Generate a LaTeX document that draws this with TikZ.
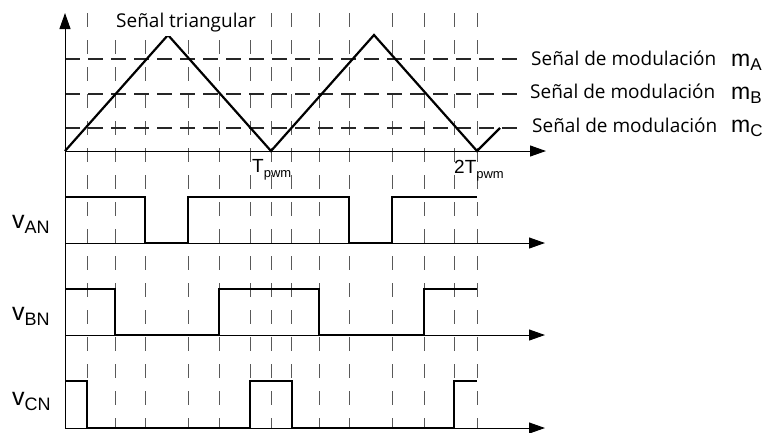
\documentclass[tikz,border=0pt]{standalone}
\usepackage{fontspec}
\setmainfont{Open Sans}
\newfontfamily\arial{Liberation Sans}
\usetikzlibrary{arrows.meta}
\begin{document}
\begin{tikzpicture}[x={(1pt,0)},y={(0,-1pt)},
  axis/.style={line width=1pt,black,-{Triangle[length=16pt,width=11pt]}},
  vgrid/.style={line width=1pt,black!65,dash pattern=on 14pt off 13pt},
  hgrid/.style={line width=1.4pt,black!85,dash pattern=on 15pt off 8pt},
  wave/.style={line width=2.4pt,black,line join=miter},
  tri/.style={line width=2.2pt,black,line join=miter},
  lbl/.style={inner sep=0pt,anchor=base west}]
\useasboundingbox (0,0) rectangle (770,432);
% vertical grid
\foreach \x in {87,115,145,188,219,250,271,291,319,349,392,424,454,477}
  \draw[vgrid] (\x,13) -- (\x,428);
% horizontal modulation levels
\foreach \y in {59,94,128}
  \draw[hgrid] (65,\y) -- (522,\y);
% axes
\draw[axis] (65,428) -- (65,13);
\draw[axis] (65,151) -- (546,151);
\draw[axis] (65,243) -- (545,243);
\draw[axis] (65,335) -- (545,335);
\draw[axis] (65,428) -- (545,428);
% triangle carrier
\draw[tri] (65,151) -- (168,35) -- (271,151) -- (374,35) -- (477,151) -- (500,128);
% switching waveforms
\draw[wave] (65,197) -- (145,197) -- (145,243) -- (188,243) -- (188,197) -- (349,197) -- (349,243) -- (392,243) -- (392,197) -- (477,197);
\draw[wave] (65,289) -- (115,289) -- (115,335) -- (219,335) -- (219,289) -- (319,289) -- (319,335) -- (424,335) -- (424,289) -- (477,289);
\draw[wave] (65,381) -- (87,381) -- (87,428) -- (250,428) -- (250,381) -- (292,381) -- (292,428) -- (454,428) -- (454,381) -- (477,381);
% labels
\node[anchor=base west,fill=white,inner xsep=3pt,inner ysep=4pt] (tri) at (113,27) {\fontsize{19}{22}\selectfont Señal triangular};
\node[lbl] (ma) at (531,65) {\fontsize{19}{22}\selectfont Señal de modulación};
\node[lbl] (mb) at (530,98) {\fontsize{19}{22}\selectfont Señal de modulación};
\node[lbl] (mc) at (532,132) {\fontsize{19}{22}\selectfont Señal de modulación};
\node[lbl] (mA) at (731,66) {\arial\fontsize{23}{25}\selectfont m\raisebox{-4pt}{\fontsize{17}{19}\selectfont A}};
\node[lbl] (mB) at (731,99) {\arial\fontsize{23}{25}\selectfont m\raisebox{-4pt}{\fontsize{17}{19}\selectfont B}};
\node[lbl] (mC) at (731,132) {\arial\fontsize{23}{25}\selectfont m\raisebox{-4pt}{\fontsize{17}{19}\selectfont C}};
\node[lbl] (tp) at (252,172) {\arial\fontsize{19}{21}\selectfont T\raisebox{-5pt}{\fontsize{13}{15}\selectfont pwm}};
\node[lbl] (tp2) at (454,173) {\arial\fontsize{19}{21}\selectfont 2T\raisebox{-5pt}{\fontsize{13}{15}\selectfont pwm}};
\node[lbl] (van) at (12,228) {\arial\fontsize{25}{28}\selectfont v\raisebox{-5pt}{\fontsize{18}{20}\selectfont AN}};
\node[lbl] (vbn) at (12,320) {\arial\fontsize{25}{28}\selectfont v\raisebox{-5pt}{\fontsize{18}{20}\selectfont BN}};
\node[lbl] (vcn) at (12,405) {\arial\fontsize{25}{28}\selectfont v\raisebox{-5pt}{\fontsize{18}{20}\selectfont CN}};
\end{tikzpicture}
\end{document}
